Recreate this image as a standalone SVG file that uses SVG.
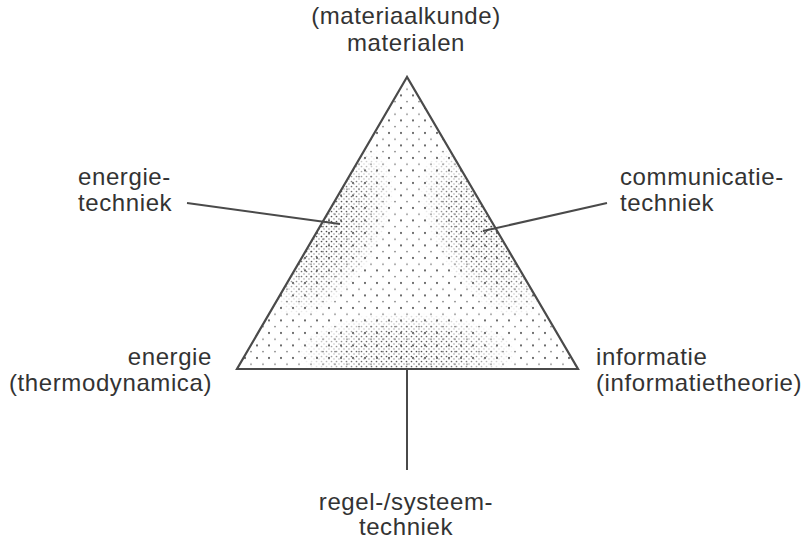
<svg xmlns="http://www.w3.org/2000/svg" width="806" height="545" viewBox="0 0 806 545">
<style>
text{font-family:"Liberation Sans",Arial,sans-serif;font-size:24px;fill:#333;letter-spacing:0.6px}
.edge{fill:none;stroke:#4a4a4a;stroke-width:2.2;stroke-linejoin:miter}
.lead{fill:none;stroke:#4a4a4a;stroke-width:2}
</style>
<defs>
<clipPath id="tri"><polygon points="407,77 237,369 578,369"/></clipPath>
<pattern id="sparse" x="2" y="5" width="12" height="12.5" patternUnits="userSpaceOnUse">
<circle cx="3" cy="3" r="1" fill="#444"/>
<circle cx="9" cy="9.2" r="0.8" fill="#666"/>
</pattern>
<pattern id="dense" width="5" height="5" patternUnits="userSpaceOnUse">
<circle cx="1.5" cy="1.5" r="0.85" fill="#444"/>
<circle cx="4" cy="4" r="0.65" fill="#666"/>
</pattern>
<radialGradient id="fade">
<stop offset="0" stop-color="#fff" stop-opacity="1"/>
<stop offset="0.55" stop-color="#fff" stop-opacity="0.75"/>
<stop offset="1" stop-color="#fff" stop-opacity="0"/>
</radialGradient>
<mask id="m" maskUnits="userSpaceOnUse" x="0" y="0" width="806" height="545">
<ellipse cx="0" cy="0" rx="95" ry="50" fill="url(#fade)" transform="translate(330 232) rotate(-60)"/>
<ellipse cx="0" cy="0" rx="95" ry="50" fill="url(#fade)" transform="translate(484 232) rotate(60)"/>
<ellipse cx="407" cy="352" rx="110" ry="40" fill="url(#fade)"/>
</mask>
</defs>
<g id="triangle">
<g clip-path="url(#tri)">
<rect x="230" y="70" width="360" height="310" fill="url(#sparse)"/>
<rect x="230" y="70" width="360" height="310" fill="url(#dense)" mask="url(#m)"/>
</g>
<polygon class="edge" points="407,77 237,369 578,369"/>
</g>
<g id="connectors">
<line class="lead" x1="187" y1="203" x2="340" y2="224"/>
<line class="lead" x1="607" y1="203" x2="483" y2="231"/>
<line class="lead" x1="407" y1="369" x2="407" y2="470"/>
</g>
<g id="node-materialen">
<text x="406" y="24" text-anchor="middle">(materiaalkunde)</text>
<text x="406" y="51" text-anchor="middle">materialen</text>
</g>
<g id="node-energietechniek">
<text x="78" y="185">energie-</text>
<text x="78" y="211">techniek</text>
</g>
<g id="node-communicatietechniek">
<text x="620" y="185">communicatie-</text>
<text x="620" y="211">techniek</text>
</g>
<g id="node-energie">
<text x="212" y="365" text-anchor="end">energie</text>
<text x="212" y="391" text-anchor="end">(thermodynamica)</text>
</g>
<g id="node-informatie">
<text x="596" y="365">informatie</text>
<text x="596" y="391">(informatietheorie)</text>
</g>
<g id="node-regel">
<text x="406" y="510" text-anchor="middle">regel-/systeem-</text>
<text x="406" y="535" text-anchor="middle">techniek</text>
</g>
</svg>
